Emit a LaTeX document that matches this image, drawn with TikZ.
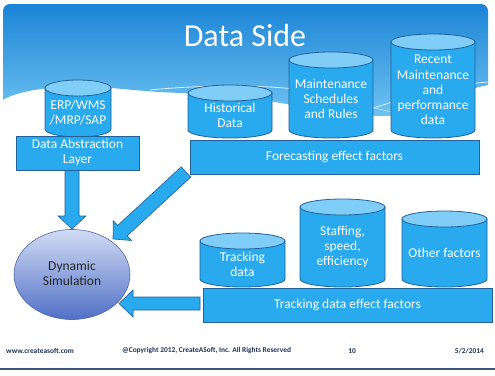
\documentclass[tikz,border=0pt]{standalone}
\usepackage{fontspec}
\setmainfont{Carlito}
\usetikzlibrary{calc}
\definecolor{cylbodyc}{HTML}{29A9EE}
\definecolor{cylcapc}{HTML}{80CDF7}
\definecolor{edgec}{HTML}{22609A}
\definecolor{hdrtop}{HTML}{1C84D6}
\definecolor{hdrbot}{HTML}{6EC3F2}
\definecolor{simtop}{HTML}{D2DCF4}
\definecolor{simbot}{HTML}{5070C6}
\definecolor{simedge}{HTML}{4B68A6}
\definecolor{footc}{HTML}{1F3358}
\definecolor{linec}{HTML}{3B5578}
\tikzset{
  cylside/.style={fill=cylbodyc,draw=edgec,line width=0.8pt},
  cylcap/.style={fill=cylcapc,draw=edgec,line width=0.8pt},
  celltext/.style={text=white,align=center,font=\fontsize{13.5}{15.2}\selectfont,inner sep=0pt},
  barbox/.style={fill=cylbodyc,draw=edgec,line width=0.8pt},
  blockarrow/.style={fill=cylbodyc,draw=edgec,line width=0.6pt,line join=miter},
  foottext/.style={text=footc,font=\bfseries\fontsize{7.4}{8}\selectfont,inner sep=0pt}
}
\newcommand{\dbcyl}[6]{%
  \pgfmathsetmacro\cylcx{(#2+#3)/2}%
  \pgfmathsetmacro\cylrx{(#3-#2)/2}%
  \pgfmathsetmacro\cylyt{#4+8}%
  \pgfmathsetmacro\cylyb{#5-8}%
  \pgfmathsetmacro\cylym{(\cylyt+#5)/2}%
  \filldraw[cylside] (#2,\cylyt) -- (#2,\cylyb) arc[start angle=180,end angle=360,x radius=\cylrx pt,y radius=8pt] -- (#3,\cylyt) -- cycle;
  \filldraw[cylcap] (\cylcx,\cylyt) ellipse[x radius=\cylrx pt,y radius=8pt];
  \node[celltext] (#1) at (\cylcx,\cylym) {#6};
}
\begin{document}
\begin{tikzpicture}[x=1pt,y=-1pt]
\useasboundingbox (0,0) rectangle (495,375);
\fill[white] (0,0) rectangle (495,375);
% header
\shade[top color=hdrtop,bottom color=hdrbot]
  (3,11) arc[start angle=180,end angle=90,radius=7pt] -- (481,4)
  arc[start angle=90,end angle=0,radius=7pt] -- (488,85)
  .. controls (450,92) and (420,116) .. (385,116)
  .. controls (330,116) and (250,93) .. (190,93)
  .. controls (140,93) and (100,84) .. (60,87)
  .. controls (30,89) and (10,95) .. (3,100) -- cycle;
\draw[white,opacity=0.8,line width=0.8pt] (150,90) .. controls (230,82) and (330,85) .. (373,108) .. controls (400,100) and (440,86) .. (488,82);
\draw[white,opacity=0.6,line width=0.6pt] (300,95) .. controls (340,100) and (360,104) .. (391,112);
\node[text=white,font=\fontsize{32}{36}\selectfont,inner sep=0pt] (title) at (245,36) {Data Side};
% block arrows
\filldraw[blockarrow] (65,170) -- (65,216) -- (58,216) -- (72,229) -- (86,216) -- (79,216) -- (79,170) -- cycle;
\filldraw[blockarrow] (181.25,166.85) -- (117.65,225.45) -- (113.25,220.7) -- (113,239) -- (131.55,240.5) -- (127.15,235.75) -- (190.75,177.15) -- cycle;
\filldraw[blockarrow] (200,297) -- (133,297) -- (133,290) -- (119,303.5) -- (133,317) -- (133,310) -- (200,310) -- cycle;
% simulation
\shade[top color=simtop,bottom color=simbot,draw=simedge,line width=0.6pt] (72,274.5) ellipse[x radius=58pt,y radius=45pt];
\node[text=black!85,align=center,font=\fontsize{13.5}{15.2}\selectfont,inner sep=0pt] (sim) at (72,273.5) {Dynamic\\Simulation};
% forecasting side
\dbcyl{erp}{45}{111}{80}{137}{ERP/WMS\\/MRP/SAP}
\filldraw[barbox] (16,136) rectangle (139,170);
\node[celltext] (dal) at (77.5,152.5) {Data Abstraction\\Layer};
\dbcyl{hist}{188}{272}{85}{138}{Historical\\Data}
\dbcyl{maint}{289}{373}{52}{138}{Maintenance\\Schedules\\and Rules}
\dbcyl{recent}{391}{475}{34}{138}{Recent\\Maintenance\\and\\performance\\data}
\filldraw[barbox] (190,140) rectangle (479,174);
\node[celltext] (fore) at (334.5,157) {Forecasting effect factors};
% tracking side
\dbcyl{track}{200}{285}{233}{287}{Tracking\\data}
\dbcyl{staff}{300}{385}{199}{287}{Staffing,\\speed,\\efficiency}
\dbcyl{other}{402}{487}{211}{287}{Other factors}
\filldraw[barbox] (203,288) rectangle (492,322);
\node[celltext] (trackbar) at (347.5,305) {Tracking data effect factors};
% footer
\node[foottext,anchor=west] (web) at (6,351) {www.createasoft.com};
\node[foottext,anchor=west] (copy) at (122,351) {@Copyright 2012, CreateASoft, Inc. All Rights Reserved};
\node[foottext] (page) at (352,351) {10};
\node[foottext,anchor=east] (date) at (484,351) {5/2/2014};
\draw[linec,line width=1.5pt] (0,369) -- (495,369);
\end{tikzpicture}
\end{document}
